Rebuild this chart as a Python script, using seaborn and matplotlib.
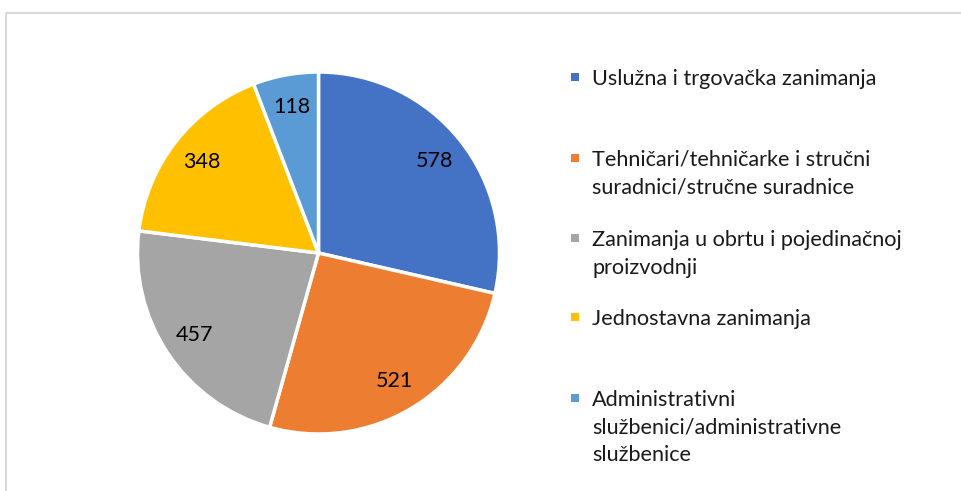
import matplotlib
matplotlib.use("Agg")
import matplotlib.pyplot as plt
import seaborn as sns
from matplotlib.patches import Rectangle
from matplotlib.lines import Line2D

sns.set_theme(style="white")
plt.rcParams['font.family'] = ['Lato', 'DejaVu Sans']

categories = [
    "Uslužna i trgovačka zanimanja",
    "Tehničari/tehničarke i stručni\nsuradnici/stručne suradnice",
    "Zanimanja u obrtu i pojedinačnoj\nproizvodnji",
    "Jednostavna zanimanja",
    "Administrativni\nslužbenici/administrativne\nslužbenice",
]
values = [578, 521, 457, 348, 118]
colors = ["#4472C4", "#ED7D31", "#A5A5A5", "#FFC000", "#5B9BD5"]

W, H = 961, 491
fig = plt.figure(figsize=(W / 100, H / 100), dpi=100)
fig.patch.set_facecolor("white")

cx, cy, r = 318.5, 253, 181
ax = fig.add_axes([(cx - r) / W, (H - cy - r) / H, 2 * r / W, 2 * r / H])
wedges, texts = ax.pie(
    values, colors=colors, startangle=90, counterclock=False,
    labels=[str(v) for v in values], labeldistance=0.82,
    wedgeprops=dict(edgecolor="white", linewidth=2.5),
    textprops=dict(fontsize=15.5, color="black"),
)
for t in texts:
    t.set_ha("center")
    t.set_va("center")
ax.set_xlim(-1, 1)
ax.set_ylim(-1, 1)
ax.set_aspect("equal")
ax.axis("off")

# frame (left and top edges visible)
fig.add_artist(Line2D([6 / W, 6 / W], [0, 1 - 12.5 / H], transform=fig.transFigure,
                      color="#D9D9D9", lw=1.5))
fig.add_artist(Line2D([6 / W, 1], [1 - 12.5 / H, 1 - 12.5 / H], transform=fig.transFigure,
                      color="#D9D9D9", lw=1.5))

# legend
first_line_y = [77, 158, 238, 317, 398]
line_h = 27.5
for lab, col, y0 in zip(categories, colors, first_line_y):
    s = 8
    fig.add_artist(Rectangle(((575 - s / 2) / W, 1 - (y0 + s / 2) / H), s / W, s / H,
                             transform=fig.transFigure, facecolor=col, edgecolor="none"))
    for i, line in enumerate(lab.split("\n")):
        fig.text(592 / W, 1 - (y0 + i * line_h) / H, line, ha="left", va="center_baseline",
                 fontsize=15.6, color="#1a1a1a")

fig.savefig("out.png", dpi=100, facecolor="white")
